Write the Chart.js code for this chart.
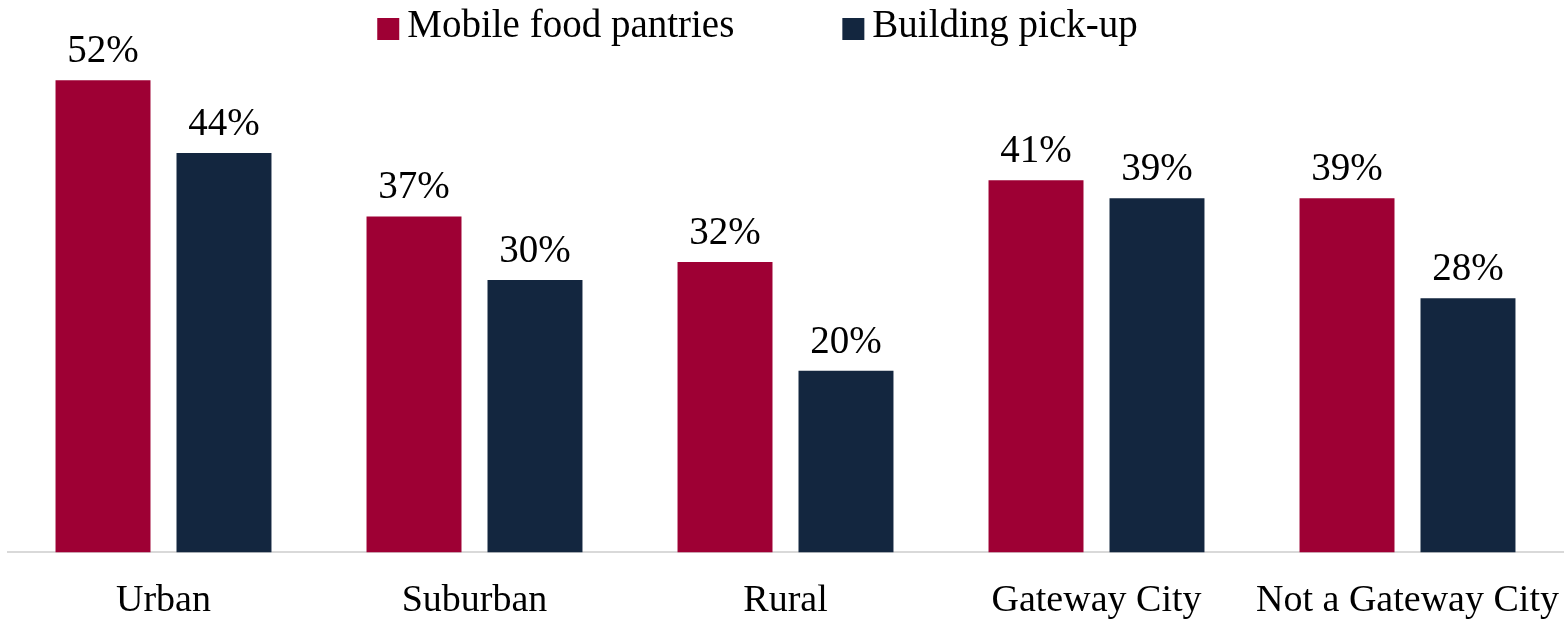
<!DOCTYPE html>
<html>
<head>
<meta charset="utf-8">
<script src="https://cdn.jsdelivr.net/npm/chart.js@4"></script>
<style>
  html, body { margin: 0; padding: 0; background: #fff; }
  #wrap { width: 1566px; height: 619px; }
</style>
</head>
<body>
<div id="wrap"><canvas id="pantryChart"></canvas></div>
<script>
const categories = ["Urban", "Suburban", "Rural", "Gateway City", "Not a Gateway City"];
const mobilePantries = [52, 37, 32, 41, 39];
const buildingPickup = [44, 30, 20, 39, 28];

const FONT = "'Liberation Serif', serif";

// value labels above each bar
const barLabels = {
  id: "barLabels",
  afterDatasetsDraw(chart) {
    const ctx = chart.ctx;
    ctx.save();
    ctx.font = "39px " + FONT;
    ctx.fillStyle = "#000";
    ctx.textAlign = "center";
    ctx.textBaseline = "alphabetic";
    chart.data.datasets.forEach((ds, i) => {
      chart.getDatasetMeta(i).data.forEach((bar, j) => {
        ctx.fillText(ds.data[j] + "%", bar.x, bar.y - 18);
      });
    });
    ctx.restore();
  }
};

// legend row across the top: square swatch, then the series name
const topLegend = {
  id: "topLegend",
  afterDraw(chart) {
    const ctx = chart.ctx;
    const box = 22, textGap = 8, itemGap = 108;
    ctx.save();
    ctx.font = "39px " + FONT;
    ctx.textBaseline = "alphabetic";
    ctx.textAlign = "left";
    const items = chart.data.datasets.map(ds => ({
      text: ds.label, color: ds.backgroundColor, w: ctx.measureText(ds.label).width
    }));
    const total = items.reduce((s, it) => s + box + textGap + it.w, 0) + itemGap * (items.length - 1);
    let x = (chart.chartArea.left + chart.chartArea.right) / 2 - 28 - total / 2;
    items.forEach(it => {
      ctx.fillStyle = it.color;
      ctx.fillRect(x, 18, box, box);
      ctx.fillStyle = "#000";
      ctx.fillText(it.text, x + box + textGap, 37);
      x += box + textGap + it.w + itemGap;
    });
    ctx.restore();
  }
};

new Chart(document.getElementById("pantryChart"), {
  type: "bar",
  data: {
    labels: categories,
    datasets: [
      { label: "Mobile food pantries", data: mobilePantries, backgroundColor: "#9e0034" },
      { label: "Building pick-up", data: buildingPickup, backgroundColor: "#13263f" }
    ]
  },
  options: {
    responsive: true,
    maintainAspectRatio: false,
    animation: false,
    layout: { padding: { left: 8, right: 3, top: 44, bottom: -8 } },
    datasets: { bar: { categoryPercentage: 0.778, barPercentage: 0.785 } },
    plugins: {
      legend: { display: false },
      tooltip: { enabled: false }
    },
    scales: {
      x: {
        grid: {
          display: true,
          drawOnChartArea: false,
          color: "rgba(0,0,0,0)",
          tickLength: 23
        },
        border: { color: "#d9d9d9", width: 2 },
        ticks: { color: "#000", font: { family: FONT, size: 38 }, padding: 3 }
      },
      y: {
        display: false,
        min: 0,
        max: 56
      }
    }
  },
  plugins: [barLabels, topLegend]
});
</script>
</body>
</html>
